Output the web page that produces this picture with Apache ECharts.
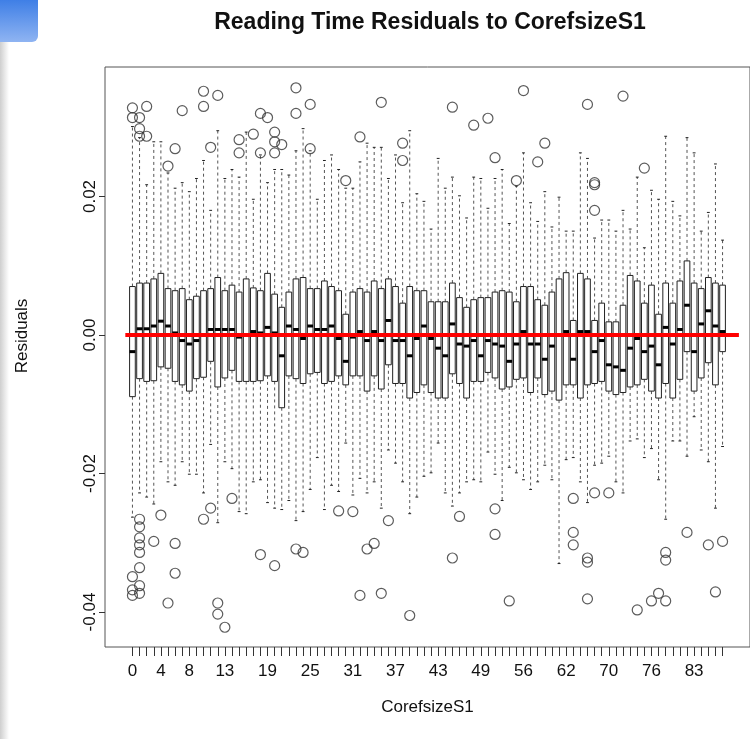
<!DOCTYPE html>
<html>
<head>
<meta charset="utf-8">
<script src="https://cdn.jsdelivr.net/npm/echarts@6/dist/echarts.min.js"></script>
<style>
  html, body { margin: 0; padding: 0; background: #fff; }
  #chart { width: 750px; height: 739px; }
</style>
</head>
<body>
<div id="chart"></div>
<script>
// categories on the x axis (some sizes are absent in the data)
var categories = ['0','1','2','3','4','5','6','7','8','9','10','11','12','13','14','15','16','17','18','19',
  '20','21','22','23','24','25','26','27','28','29','30','31','32','33','34','35','36','37','38','39',
  '40','41','42','43','44','45','46','47','48','49','50','51','53','54','55','56','57','58','59','60',
  '61','62','63','64','66','68','69','70','71','72','73','74','75','76','77','78','79','81','82','83',
  '84','85','86','87'];
var shownLabels = ['0','4','8','13','19','25','31','37','43','49','56','62','70','76','83'];
var yTicks = [-0.04, -0.02, 0, 0.02];

var whiskerLow = [-0.0263,-0.0228,-0.0234,-0.0244,-0.0183,-0.0212,-0.0217,-0.0183,-0.0201,-0.0201,
  -0.0228,-0.0158,-0.0271,-0.0183,-0.0193,-0.0255,-0.0258,-0.0212,-0.0209,-0.0242,
  -0.0250,-0.0252,-0.0239,-0.0268,-0.0255,-0.0223,-0.0177,-0.0252,-0.0217,-0.0226,
  -0.0156,-0.0231,-0.0207,-0.0228,-0.0212,-0.0250,-0.0166,-0.0185,-0.0212,-0.0258,
  -0.0234,-0.0204,-0.0199,-0.0156,-0.0228,-0.0247,-0.0228,-0.0212,-0.0209,-0.0212,
  -0.0169,-0.0201,-0.0239,-0.0191,-0.0199,-0.0209,-0.0223,-0.0212,-0.0188,-0.0209,
  -0.0330,-0.0180,-0.0177,-0.0212,-0.0242,-0.0188,-0.0185,-0.0175,-0.0212,-0.0228,
  -0.0153,-0.0150,-0.0177,-0.0164,-0.0209,-0.0266,-0.0153,-0.0153,-0.0175,-0.0118,
  -0.0166,-0.0183,-0.0250,-0.0161];
var q1 = [-0.0089,-0.0063,-0.0067,-0.0066,-0.0046,-0.0048,-0.0067,-0.0072,-0.0081,-0.0063,
  -0.0061,-0.0038,-0.0075,-0.0062,-0.0051,-0.0067,-0.0067,-0.0067,-0.0066,-0.0059,
  -0.0067,-0.0105,-0.0059,-0.0063,-0.0070,-0.0056,-0.0054,-0.0070,-0.0067,-0.0059,
  -0.0072,-0.0059,-0.0059,-0.0081,-0.0059,-0.0078,-0.0043,-0.0070,-0.0070,-0.0091,
  -0.0083,-0.0072,-0.0083,-0.0091,-0.0091,-0.0056,-0.0070,-0.0091,-0.0067,-0.0067,
  -0.0054,-0.0062,-0.0078,-0.0075,-0.0064,-0.0062,-0.0083,-0.0062,-0.0086,-0.0081,
  -0.0094,-0.0072,-0.0072,-0.0091,-0.0072,-0.0070,-0.0067,-0.0081,-0.0086,-0.0083,
  -0.0075,-0.0072,-0.0064,-0.0081,-0.0091,-0.0070,-0.0091,-0.0064,-0.0024,-0.0081,
  -0.0062,-0.0040,-0.0072,-0.0024];
var median = [-0.0024,0.0009,0.0009,0.0013,0.0020,0.0013,0.0003,-0.0008,-0.0013,-0.0008,
  0.0000,0.0008,0.0008,0.0008,0.0008,-0.0003,0.0000,0.0005,0.0003,0.0011,
  0.0003,-0.0030,0.0013,0.0008,-0.0005,0.0013,0.0008,0.0008,0.0013,-0.0005,
  -0.0038,-0.0003,0.0005,-0.0008,0.0005,-0.0008,0.0021,-0.0008,-0.0008,-0.0030,
  -0.0005,0.0013,-0.0005,-0.0019,-0.0030,0.0016,-0.0013,-0.0016,-0.0008,-0.0030,
  -0.0008,-0.0013,-0.0016,-0.0038,-0.0013,0.0005,-0.0013,-0.0013,-0.0035,-0.0016,
  0.0000,0.0005,-0.0035,0.0005,0.0005,-0.0024,-0.0008,-0.0043,-0.0046,-0.0051,
  -0.0019,-0.0005,-0.0024,-0.0016,-0.0043,0.0011,-0.0013,0.0008,0.0043,-0.0024,
  0.0016,0.0035,0.0013,0.0005];
var q3 = [0.0070,0.0075,0.0075,0.0081,0.0089,0.0067,0.0064,0.0067,0.0051,0.0056,
  0.0064,0.0067,0.0083,0.0064,0.0072,0.0062,0.0081,0.0068,0.0064,0.0089,
  0.0059,0.0040,0.0062,0.0081,0.0083,0.0067,0.0067,0.0078,0.0070,0.0064,
  0.0030,0.0062,0.0067,0.0062,0.0078,0.0067,0.0081,0.0070,0.0046,0.0070,
  0.0064,0.0064,0.0048,0.0048,0.0048,0.0075,0.0054,0.0040,0.0051,0.0054,
  0.0054,0.0062,0.0064,0.0062,0.0048,0.0070,0.0070,0.0051,0.0043,0.0062,
  0.0081,0.0090,0.0021,0.0089,0.0081,0.0021,0.0046,0.0019,0.0019,0.0043,
  0.0086,0.0078,0.0046,0.0072,0.0030,0.0075,0.0046,0.0078,0.0107,0.0075,
  0.0067,0.0083,0.0075,0.0072];
var whiskerHigh = [0.0301,0.0285,0.0217,0.0279,0.0279,0.0234,0.0212,0.0220,0.0207,0.0226,
  0.0252,0.0180,0.0295,0.0226,0.0239,0.0228,0.0293,0.0196,0.0260,0.0220,
  0.0239,0.0239,0.0231,0.0266,0.0298,0.0266,0.0196,0.0252,0.0260,0.0239,
  0.0212,0.0212,0.0250,0.0277,0.0271,0.0271,0.0226,0.0260,0.0191,0.0295,
  0.0204,0.0193,0.0153,0.0255,0.0212,0.0228,0.0201,0.0169,0.0228,0.0226,
  0.0183,0.0226,0.0239,0.0161,0.0215,0.0263,0.0191,0.0164,0.0207,0.0156,
  0.0199,0.0150,0.0150,0.0263,0.0255,0.0140,0.0166,0.0166,0.0150,0.0180,
  0.0153,0.0228,0.0126,0.0209,0.0196,0.0287,0.0193,0.0172,0.0285,0.0263,
  0.0150,0.0177,0.0247,0.0137];

// outliers: [category, residual]
var outliers = [
  ['0',0.0328],['0',0.0314],['0',-0.0349],['0',-0.0368],['0',-0.0376],
  ['1',0.0314],['1',0.0298],['1',0.0287],['1',-0.0266],['1',-0.0277],['1',-0.0293],['1',-0.0303],
  ['1',-0.0314],['1',-0.0336],['1',-0.0362],['1',-0.0373],
  ['2',0.0330],['2',0.0287],['3',-0.0298],['4',-0.0260],['5',0.0244],['5',-0.0387],
  ['6',0.0269],['6',-0.0301],['6',-0.0344],['7',0.0324],
  ['10',0.0352],['10',0.0330],['10',-0.0266],['11',0.0271],['11',-0.0250],
  ['12',0.0346],['12',-0.0387],['12',-0.0403],['13',-0.0422],['14',-0.0236],
  ['15',0.0282],['15',0.0263],['17',0.0290],['18',0.0320],['18',0.0263],['18',-0.0317],
  ['19',0.0314],['20',0.0293],['20',0.0279],['20',0.0263],['20',-0.0333],['21',0.0275],
  ['23',0.0357],['23',0.0320],['23',-0.0309],['24',-0.0314],['25',0.0333],['25',0.0269],
  ['29',-0.0254],['30',0.0223],['31',-0.0255],['32',0.0286],['32',-0.0376],['33',-0.0309],
  ['34',-0.0301],['35',0.0336],['35',-0.0373],['36',-0.0268],['38',0.0277],['38',0.0252],
  ['39',-0.0405],['45',0.0329],['45',-0.0322],['46',-0.0262],['48',0.0303],['50',0.0313],
  ['51',0.0256],['51',-0.0251],['51',-0.0288],['54',-0.0384],['55',0.0223],['56',0.0353],
  ['58',0.0250],['59',0.0277],['63',-0.0236],['63',-0.0285],['63',-0.0303],
  ['66',0.0333],['66',-0.0322],['66',-0.0328],['66',-0.0381],
  ['68',0.0220],['68',0.0217],['68',0.0180],['68',-0.0228],['70',-0.0228],['72',0.0345],
  ['74',-0.0397],['75',0.0241],['76',-0.0384],['77',-0.0373],
  ['78',-0.0314],['78',-0.0325],['78',-0.0384],['82',-0.0285],['85',-0.0303],['86',-0.0371],['87',-0.0298]
];

// red reference line at zero, x given in box positions
var refLine = [[-1, 0], [85.3, 0]];

var font = '"Liberation Sans", Arial, sans-serif';
var ink = '#111';

var boxData = categories.map(function(c, i) {
  return [i, whiskerLow[i], q1[i], median[i], q3[i], whiskerHigh[i]];
});
var outlierData = outliers.map(function(o) {
  return [categories.indexOf(o[0]), o[1]];
});
var tickIdx = categories.map(function(c, i) { return i; });
var labelIdx = shownLabels.map(function(c) { return categories.indexOf(c); });

function renderBox(params, api) {
  var x = api.value(0);
  var lo = api.coord([x, api.value(1)]);
  var b1 = api.coord([x, api.value(2)]);
  var md = api.coord([x, api.value(3)]);
  var b3 = api.coord([x, api.value(4)]);
  var hi = api.coord([x, api.value(5)]);
  var w = api.size([0.8, 0])[0];
  var st = w / 4;
  var cx = lo[0];
  var dash = { stroke: '#555', lineWidth: 1, lineDash: [3, 3] };
  var solid = { stroke: '#222', lineWidth: 1 };
  return {
    type: 'group',
    children: [
      { type: 'line', shape: { x1: cx, y1: b3[1], x2: cx, y2: hi[1] }, style: dash },
      { type: 'line', shape: { x1: cx, y1: b1[1], x2: cx, y2: lo[1] }, style: dash },
      { type: 'line', shape: { x1: cx - st, y1: hi[1], x2: cx + st, y2: hi[1] }, style: solid },
      { type: 'line', shape: { x1: cx - st, y1: lo[1], x2: cx + st, y2: lo[1] }, style: solid },
      { type: 'rect', shape: { x: cx - w / 2, y: b3[1], width: w, height: b1[1] - b3[1] },
        style: { fill: '#fff', stroke: '#222', lineWidth: 1 } },
      { type: 'line', shape: { x1: cx - w / 2, y1: md[1], x2: cx + w / 2, y2: md[1] },
        style: { stroke: '#000', lineWidth: 3 } }
    ]
  };
}

var chart = echarts.init(document.getElementById('chart'), null, { renderer: 'canvas' });
chart.setOption({
  animation: false,
  backgroundColor: '#fff',
  graphic: [
    { type: 'rect', shape: { x: 0, y: 0, width: 9, height: 739 },
      style: { fill: new echarts.graphic.LinearGradient(0, 0, 1, 0, [
        { offset: 0, color: '#cfcfcf' }, { offset: 1, color: '#ffffff' }]) }, z: -1 },
    { type: 'rect', shape: { x: 0, y: 0, width: 38, height: 42, r: [0, 0, 6, 0] },
      style: { fill: new echarts.graphic.LinearGradient(0, 0, 0, 1, [
        { offset: 0, color: '#3f7fe6' }, { offset: 1, color: '#8fb4f2' }]) } },
    { type: 'text', x: 430, y: 23,
      style: { text: 'Reading Time Residuals to CorefsizeS1', align: 'center', verticalAlign: 'middle',
        font: 'bold 23px ' + font, fill: ink } },
    { type: 'text', x: 22, y: 336, rotation: Math.PI / 2,
      style: { text: 'Residuals', align: 'center', verticalAlign: 'middle',
        font: '17px ' + font, fill: ink } }
  ],
  grid: { left: 105, top: 67, width: 650, height: 580, show: true,
    borderColor: '#555', borderWidth: 1, backgroundColor: 'transparent' },
  xAxis: {
    type: 'value', min: -3.86, max: 86.86,
    name: 'CorefsizeS1', nameLocation: 'middle', nameGap: 52,
    nameTextStyle: { fontSize: 17, fontFamily: font, color: ink },
    axisLine: { show: false, onZero: false },
    splitLine: { show: false },
    axisTick: { show: true, length: 9, customValues: tickIdx, lineStyle: { color: '#333' } },
    axisLabel: { customValues: labelIdx, margin: 16, fontSize: 17, fontFamily: font, color: ink,
      formatter: function(v) { return categories[v]; } }
  },
  yAxis: {
    type: 'value', min: -0.04505, max: 0.0387,
    axisLine: { show: false, onZero: false },
    splitLine: { show: false },
    axisTick: { show: true, length: 6, customValues: yTicks, lineStyle: { color: '#333' } },
    axisLabel: { customValues: yTicks, rotate: 90, margin: 6, fontSize: 17, fontFamily: font, color: ink,
      formatter: function(v) { return v.toFixed(2); } }
  },
  series: [
    {
      type: 'custom',
      renderItem: renderBox,
      data: boxData,
      encode: { x: 0, y: [1, 2, 3, 4, 5] },
      z: 2
    },
    {
      type: 'scatter',
      data: outlierData,
      symbol: 'circle',
      symbolSize: 10,
      itemStyle: { color: 'rgba(0,0,0,0)', borderColor: '#333', borderWidth: 1.2 },
      z: 3
    },
    {
      type: 'line',
      data: refLine,
      symbol: 'none',
      lineStyle: { color: '#ff0000', width: 4 },
      z: 5
    }
  ]
});
</script>
</body>
</html>
